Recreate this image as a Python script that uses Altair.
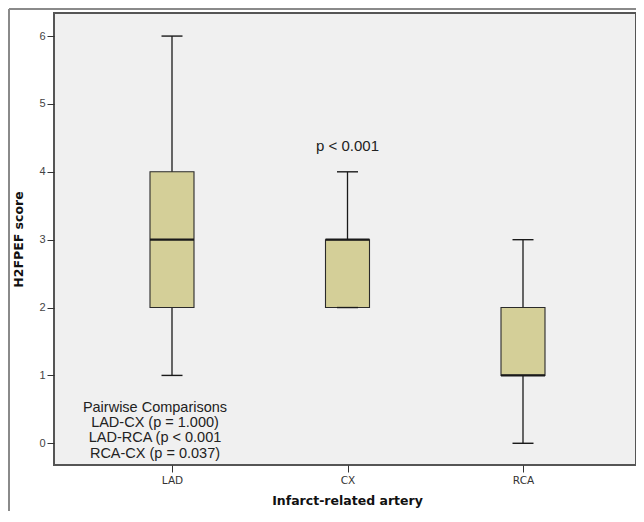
import altair as alt
import pandas as pd

# ---- data ----
arteries = ["LAD", "CX", "RCA"]
mins = [1, 2, 0]
q1s = [2, 2, 1]
medians = [3, 3, 1]
q3s = [4, 3, 2]
maxs = [6, 4, 3]

y_ticks = [0, 1, 2, 3, 4, 5, 6]
p_text = "p < 0.001"
pairwise_lines = [
    "Pairwise Comparisons",
    "LAD-CX (p = 1.000)",
    "LAD-RCA (p < 0.001",
    "RCA-CX (p = 0.037)",
]

df = pd.DataFrame({
    "artery": arteries, "min": mins, "q1": q1s,
    "median": medians, "q3": q3s, "max": maxs,
})

BOX_FILL = "#D4CF98"
LINE = "#1a1a1a"

x_enc = alt.X(
    "artery:N",
    sort=arteries,
    scale=alt.Scale(type="point", padding=0, range=[118, 469]),
    axis=alt.Axis(
        title="Infarct-related artery",
        labelAngle=0,
        labelFont="DejaVu Sans",
        labelFontSize=10.5,
        labelColor="#333333",
        tickColor="#333333",
        tickSize=7,
        labelPadding=3,
        domain=False,
        titleFont="DejaVu Sans",
        titleFontWeight="bold",
        titleFontSize=12.5,
        titleColor="#111111",
        titlePadding=9,
        titleX=293,
    ),
)

y_scale = alt.Scale(domain=[-0.32, 6.34], nice=False, zero=False)
y_axis = alt.Axis(
    title="H2FPEF score",
    values=y_ticks,
    format="d",
    grid=False,
    domain=False,
    labelFont="Liberation Sans",
    labelFontSize=11,
    labelColor="#444444",
    tickColor="#333333",
    tickSize=7,
    labelPadding=2,
    titleFont="DejaVu Sans",
    titleFontWeight="bold",
    titleFontSize=12.5,
    titleColor="#111111",
    titlePadding=13,
)

base = alt.Chart(df)

whisker = base.mark_rule(color=LINE, strokeWidth=1.3).encode(
    x=x_enc,
    y=alt.Y("min:Q", scale=y_scale, axis=y_axis),
    y2="max:Q",
)

box = base.mark_bar(size=44, fill=BOX_FILL, stroke="#2a2a2a", strokeWidth=1.1).encode(
    x=x_enc,
    y=alt.Y("q1:Q", scale=y_scale, axis=y_axis),
    y2="q3:Q",
)

median = base.mark_tick(size=44, thickness=2.2, color=LINE, opacity=1).encode(
    x=x_enc,
    y=alt.Y("median:Q", scale=y_scale, axis=y_axis),
)

cap_lo = base.mark_tick(size=21, thickness=1.4, color=LINE, opacity=1).encode(
    x=x_enc,
    y=alt.Y("min:Q", scale=y_scale, axis=y_axis),
)
cap_hi = base.mark_tick(size=21, thickness=1.4, color=LINE, opacity=1).encode(
    x=x_enc,
    y=alt.Y("max:Q", scale=y_scale, axis=y_axis),
)

p_df = pd.DataFrame({"artery": ["CX"], "y": [4.38], "label": [p_text]})
p_label = alt.Chart(p_df).mark_text(
    font="Liberation Sans", fontSize=15, color="#222222", baseline="middle", align="center"
).encode(
    x=x_enc,
    y=alt.Y("y:Q", scale=y_scale, axis=y_axis),
    text="label:N",
)

pw_df = pd.DataFrame({"artery": ["LAD"], "y": [0.63], "label": ["\n".join(pairwise_lines)]})
pw_label = alt.Chart(pw_df).mark_text(
    font="Liberation Sans", fontSize=14.5, color="#222222", baseline="top",
    align="center", lineBreak="\n", lineHeight=15.4, dx=-17,
).encode(
    x=x_enc,
    y=alt.Y("y:Q", scale=y_scale, axis=y_axis),
    text="label:N",
)

frame_df = pd.DataFrame({"k": [0]})
frame_left = alt.Chart(frame_df).mark_rule(color="#8a8a8a", strokeWidth=2).encode(
    x=alt.value(-45), y=alt.value(-4), y2=alt.value(600),
)
frame_top = alt.Chart(frame_df).mark_rule(color="#8a8a8a", strokeWidth=2).encode(
    x=alt.value(-45), x2=alt.value(700), y=alt.value(-4),
)

chart = alt.layer(
    frame_left, frame_top, whisker, box, median, cap_lo, cap_hi, p_label, pw_label
).properties(
    width=582,
    height=452,
    autosize=alt.AutoSizeParams(type="none"),
    padding={"left": 46, "top": 5, "right": 0, "bottom": 46},
    background="white",
).configure_view(
    fill="#F0F0F0",
    stroke="#555555",
    strokeWidth=2,
)

chart.save("out.html", embed_options={"renderer": "svg", "actions": False})
